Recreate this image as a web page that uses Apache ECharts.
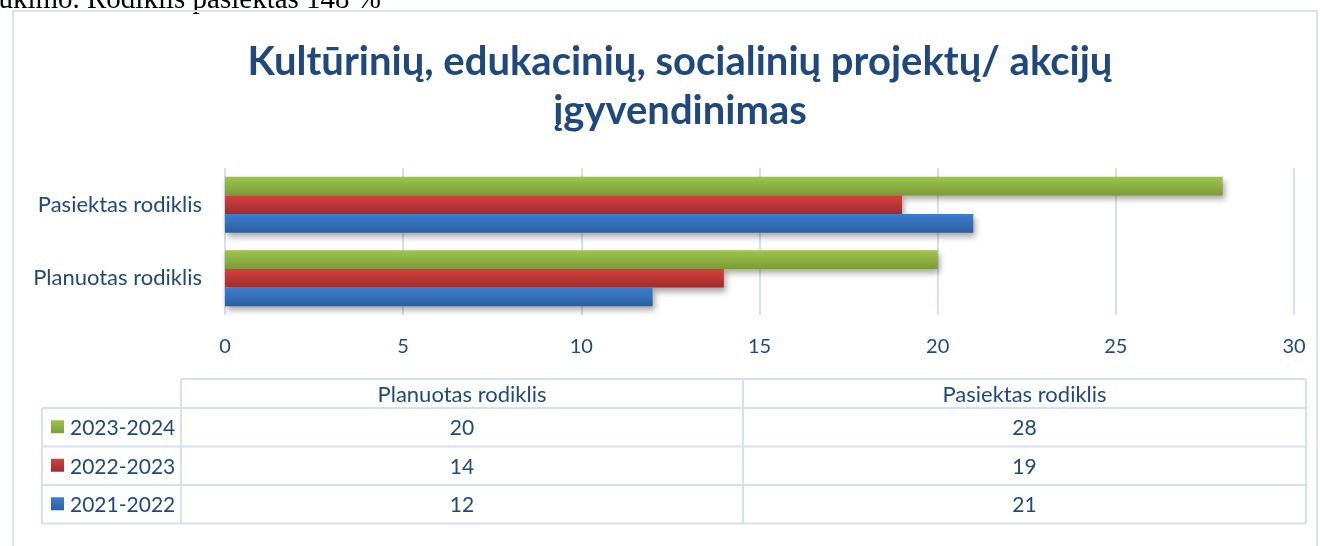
<!DOCTYPE html>
<html>
<head>
<meta charset="utf-8">
<script src="https://cdn.jsdelivr.net/npm/echarts@6/dist/echarts.min.js"></script>
<style>
  html, body { margin: 0; padding: 0; background: #fff; }
  #chartsDiv { width: 1320px; height: 546px; }
</style>
</head>
<body>
<div id="chartsDiv"></div>
<script>
// kategorijos (y ašis, iš apačios į viršų)
const categories = ["Planuotas rodiklis", "Pasiektas rodiklis"];
// metai
const seriesNames = ["2023-2024", "2022-2023", "2021-2022"];
// reikšmės pagal kategorijas: [planuotas, pasiektas]
const data2023 = [20, 28];
const data2022 = [14, 19];
const data2021 = [12, 21];
const xTicks = [0, 5, 10, 15, 20, 25, 30];

const values = [data2023, data2022, data2021];
const textColor = "#1F497D";
const lineColor = "#D6E0EF";
const font = "Lato, 'Noto Sans', sans-serif";

const gradients = [
  ["#9DC44B", "#7C9C38"],
  ["#D4403D", "#A12D2B"],
  ["#3C7ECF", "#2D5F9F"],
];

function grad(c) {
  return new echarts.graphic.LinearGradient(0, 0, 0, 1, [
    { offset: 0, color: c[0] },
    { offset: 1, color: c[1] },
  ]);
}

// lentelė po grafiku
const tblLeft = 42, tblLabelRight = 181, tblMid = 743, tblRight = 1306;
const tblTop = 379, headerBottom = 408, rowH = 38.5;
const graphic = [];

// viršuje nukirptas dokumento tekstas
graphic.push({
  type: "text", x: 381, y: 15,
  style: { text: "dukimo. Rodiklis pasiektas 148 %", align: "right", verticalAlign: "bottom",
    font: "29px 'Liberation Serif', serif", fill: "#000" },
});
// grafiko rėmelis
graphic.push({
  type: "rect", shape: { x: 13, y: 11, width: 1304, height: 560 },
  style: { fill: null, stroke: "#D9E2F0", lineWidth: 2 },
});

function hline(x1, x2, y) {
  graphic.push({ type: "line", shape: { x1: x1, y1: y, x2: x2, y2: y }, style: { stroke: lineColor, lineWidth: 2 } });
}
function vline(x, y1, y2) {
  graphic.push({ type: "line", shape: { x1: x, y1: y1, x2: x, y2: y2 }, style: { stroke: lineColor, lineWidth: 2 } });
}
const tblBottom = headerBottom + rowH * seriesNames.length;
hline(tblLabelRight, tblRight, tblTop);
vline(tblLabelRight, tblTop, tblBottom);
vline(tblMid, tblTop, tblBottom);
vline(tblRight, tblTop, tblBottom);
vline(tblLeft, headerBottom, tblBottom);
for (let i = 0; i <= seriesNames.length; i++) hline(tblLeft, tblRight, headerBottom + rowH * i);

const colCenters = [(tblLabelRight + tblMid) / 2, (tblMid + tblRight) / 2];
categories.forEach(function (c, j) {
  graphic.push({ type: "text", x: colCenters[j], y: (tblTop + headerBottom) / 2 + 1,
    style: { text: c, align: "center", verticalAlign: "middle", font: "22px " + font, fill: textColor } });
});
seriesNames.forEach(function (name, i) {
  const cy = headerBottom + rowH * i + rowH / 2;
  graphic.push({ type: "rect", shape: { x: 51, y: cy - 7, width: 13, height: 13 },
    style: { fill: grad(gradients[i]) } });
  graphic.push({ type: "text", x: 70, y: cy + 1,
    style: { text: name, align: "left", verticalAlign: "middle", font: "21px " + font, fill: textColor } });
  values[i].forEach(function (v, j) {
    graphic.push({ type: "text", x: colCenters[j], y: cy + 1,
      style: { text: String(v), align: "center", verticalAlign: "middle", font: "21px " + font, fill: textColor } });
  });
});

const option = {
  animation: false,
  backgroundColor: "#fff",
  title: {
    text: "Kultūrinių, edukacinių, socialinių projektų/ akcijų\nįgyvendinimas",
    left: 675,
    top: 33,
    textAlign: "center",
    textStyle: { fontFamily: font, fontSize: 40, fontWeight: "bold", color: textColor, lineHeight: 49 },
  },
  grid: { left: 225, right: 26, top: 168, height: 147, containLabel: false },
  xAxis: {
    type: "value",
    min: 0,
    max: 30,
    interval: 5,
    axisLine: { show: false },
    axisTick: { show: false },
    axisLabel: { color: textColor, fontFamily: font, fontSize: 20, margin: 22,
      formatter: function (v) { return xTicks.indexOf(v) >= 0 ? String(v) : ""; } },
    splitLine: { lineStyle: { color: lineColor, width: 2 } },
  },
  yAxis: {
    type: "category",
    data: categories,
    axisLine: { show: false },
    axisTick: { show: false },
    axisLabel: { color: textColor, fontFamily: font, fontSize: 22, margin: 23 },
  },
  series: seriesNames.map(function (name, i) {
    return {
      name: name,
      type: "bar",
      barGap: "0%",
      barCategoryGap: "24%",
      itemStyle: {
        color: grad(gradients[i]),
        shadowBlur: 6,
        shadowColor: "rgba(0,0,0,0.35)",
        shadowOffsetX: 2,
        shadowOffsetY: 4,
      },
      data: values[i],
    };
  }),
  graphic: graphic,
};

const chart = echarts.init(document.getElementById("chartsDiv"));
chart.setOption(option);
</script>
</body>
</html>
